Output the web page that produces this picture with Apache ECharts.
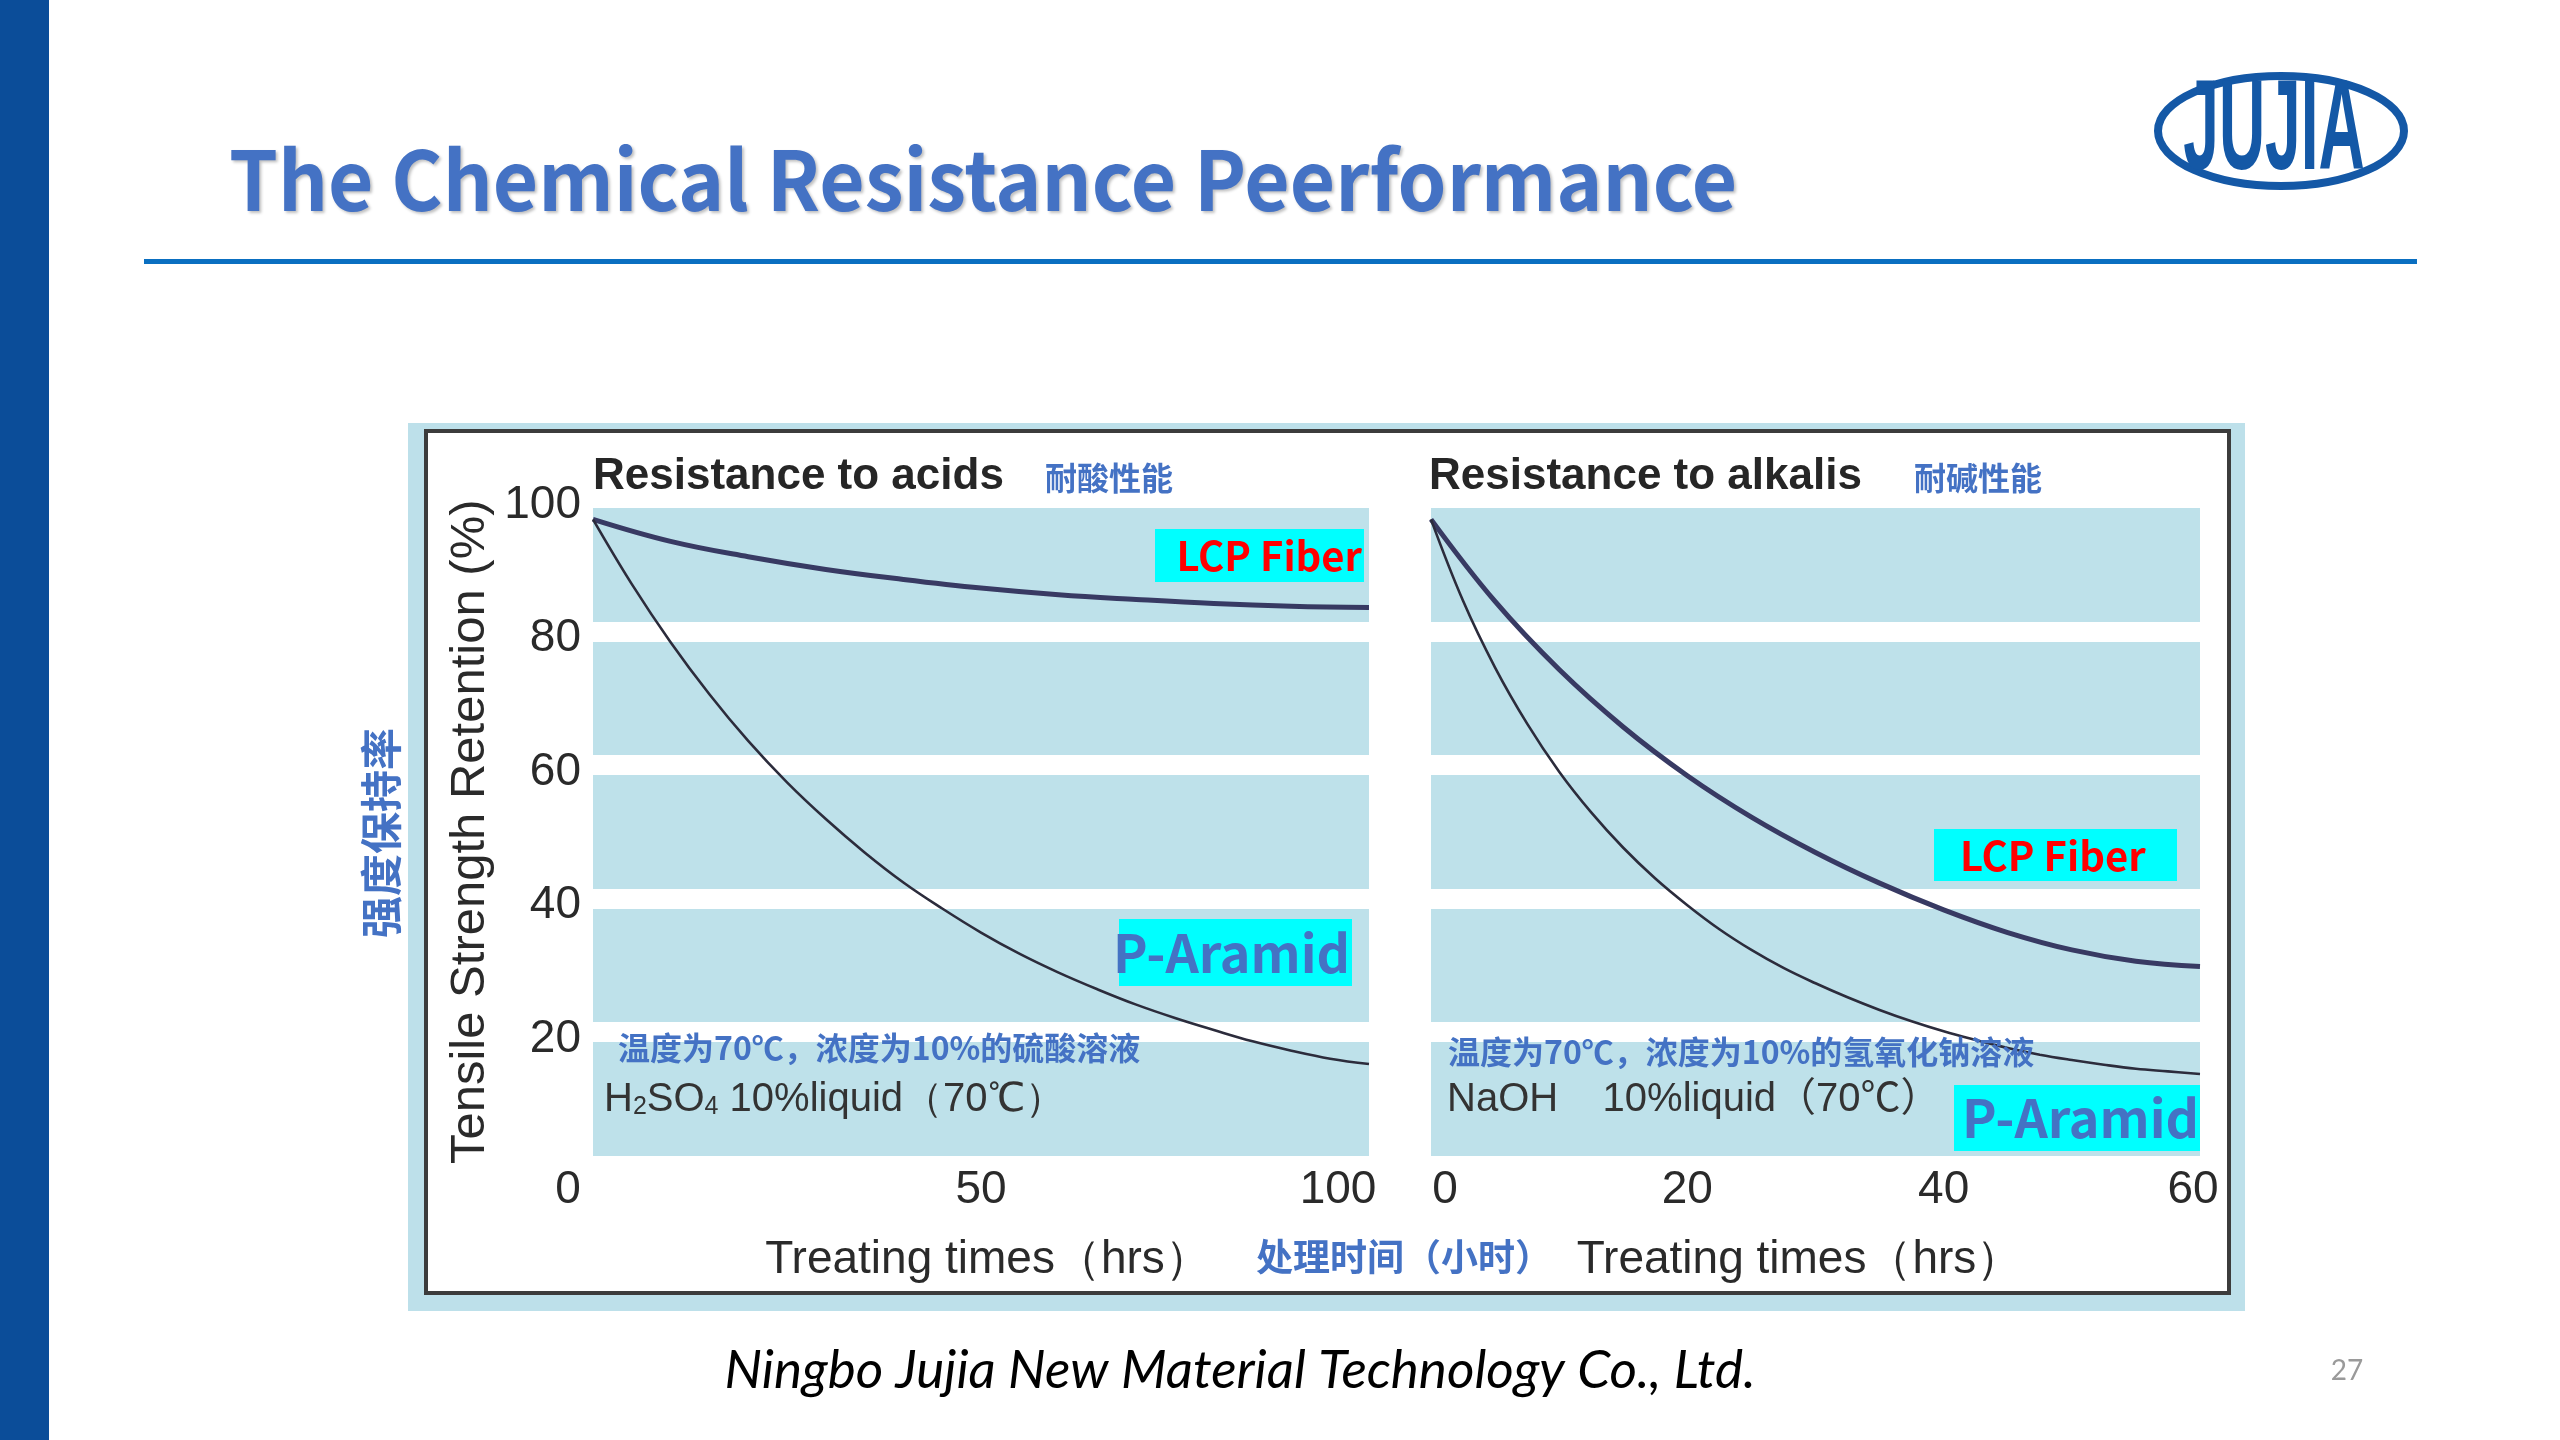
<!DOCTYPE html>
<html>
<head>
<meta charset="utf-8">
<script src="https://cdn.jsdelivr.net/npm/echarts@6/dist/echarts.min.js"></script>
<style>
html,body{margin:0;padding:0;background:#ffffff;}
#c{width:2560px;height:1440px;}
</style>
</head>
<body>
<div id="c"></div>
<script>
// ---- data ----
const acidHours   = [0, 10, 20, 30, 40, 50, 60, 70, 80, 90, 100];
const acidLCP     = [96.8, 93.5, 91.2, 89.3, 87.8, 86.5, 85.5, 84.8, 84.2, 83.8, 83.6];
const acidAramidHours = [0, 5, 10, 15, 20, 25, 30, 35, 40, 45, 50, 55, 60, 65, 70, 75, 80, 85, 90, 95, 100];
const acidAramid  = [96.8, 87.1, 78.4, 70.6, 63.6, 57.4, 51.9, 46.9, 42.4, 38.5, 34.9, 31.7, 28.9, 26.4, 24.1, 22.1, 20.3, 18.6, 17.2, 16.0, 15.2];
const alkaliLCPHours = [0, 5, 10, 15, 20, 25, 30, 35, 40, 45, 50, 55, 60];
const alkaliLCP   = [96.8, 84.5, 74.3, 65.7, 58.4, 52.2, 46.9, 42.3, 38.3, 34.9, 32.3, 30.6, 29.8];
const alkaliAramidHours = [0, 2.5, 5, 7.5, 10, 12.5, 15, 17.5, 20, 22.5, 25, 27.5, 30, 32.5, 35, 37.5, 40, 42.5, 45, 47.5, 50, 52.5, 55, 57.5, 60];
const alkaliAramid = [96.8, 84.6, 74.6, 66.2, 59.0, 52.9, 47.6, 43.0, 39.0, 35.4, 32.3, 29.6, 27.3, 25.2, 23.3, 21.6, 20.1, 18.8, 17.6, 16.6, 15.8, 15.1, 14.5, 14.1, 13.7];
const yTicks = [0, 20, 40, 60, 80, 100];
const acidXTicks = [0, 50, 100];
const alkaliXTicks = [0, 20, 40, 60];

const SANS = "'Liberation Sans', Arial, sans-serif";
const CJK = "'Noto Sans CJK SC', sans-serif";
const BLUE = '#4472C4';
const BAND = '#bee1ea';

function zip(xs, ys){ return xs.map((x,i)=>[x, ys[i]]); }

const chart = echarts.init(document.getElementById('c'), null, {renderer:'canvas', width:2560, height:1440});

const yAxisBase = {
  type:'value', min:yTicks[0], max:yTicks[yTicks.length-1], interval:20,
  axisLine:{show:false}, axisTick:{show:false},
  splitLine:{show:true, lineStyle:{color:'#ffffff', width:20}},
  splitArea:{show:true, areaStyle:{color:[BAND, BAND]}}
};
const xLabelStyle = {fontSize:46, color:'#2a2a2a', fontFamily:SANS};

function xLabel(padMap){
  return {
    margin:2,
    formatter:function(v){ const k = padMap[v] ? 'p'+v : 'n'; return '{'+k+'|'+v+'}'; },
    rich:Object.assign({n:Object.assign({}, xLabelStyle)},
      Object.fromEntries(Object.keys(padMap).map(k=>['p'+k, Object.assign({padding:padMap[k]}, xLabelStyle)])))
  };
}

const lineSeries = (name, xi, hours, vals, color, width) => ({
  name:name, type:'line', xAxisIndex:xi, yAxisIndex:xi, data:zip(hours, vals),
  smooth:0.4, symbol:'none', lineStyle:{color:color, width:width}, z:3
});

const option = {
  backgroundColor:'#ffffff',
  animation:false,
  grid:[
    {left:593, top:498, width:776, height:667.5},
    {left:1431, top:498, width:769, height:667.5}
  ],
  xAxis:[
    Object.assign({gridIndex:0, type:'value', min:acidXTicks[0], max:acidXTicks[2], interval:50,
      axisLine:{show:false}, axisTick:{show:false}, splitLine:{show:false},
      name:'Treating times（hrs）', nameLocation:'middle', nameGap:72,
      nameTextStyle:{fontSize:46, fontFamily:SANS, color:'#2a2a2a', padding:[0,0,0,14]}},
      {axisLabel:xLabel({0:[0,50,0,0], 100:[0,62,0,0]})}),
    Object.assign({gridIndex:1, type:'value', min:alkaliXTicks[0], max:alkaliXTicks[3], interval:20,
      axisLine:{show:false}, axisTick:{show:false}, splitLine:{show:false},
      name:'Treating times（hrs）', nameLocation:'middle', nameGap:72,
      nameTextStyle:{fontSize:46, fontFamily:SANS, color:'#2a2a2a', padding:[0,32,0,0]}},
      {axisLabel:xLabel({0:[0,0,0,28], 60:[0,14,0,0]})})
  ],
  yAxis:[
    Object.assign({}, yAxisBase, {gridIndex:0,
      name:'Tensile Strength Retention (%)', nameLocation:'middle', nameRotate:90, nameGap:98,
      nameTextStyle:{fontSize:49, fontFamily:SANS, color:'#2a2a2a'},
      axisLabel:{margin:12, showMinLabel:false, formatter:function(v){return '{v|'+v+'}';},
        rich:{v:{fontSize:46, color:'#2a2a2a', fontFamily:SANS, padding:[14,0,0,0]}}}}),
    Object.assign({}, yAxisBase, {gridIndex:1, axisLabel:{show:false}})
  ],
  series:[
    lineSeries('LCP Fiber (acid)', 0, acidHours, acidLCP, '#383a63', 5),
    lineSeries('P-Aramid (acid)', 0, acidAramidHours, acidAramid, '#2c2c3c', 2.6),
    lineSeries('LCP Fiber (alkali)', 1, alkaliLCPHours, alkaliLCP, '#383a63', 5),
    lineSeries('P-Aramid (alkali)', 1, alkaliAramidHours, alkaliAramid, '#2c2c3c', 2.6)
  ],
  graphic:{elements:[
    // page decoration
    {type:'rect', z:-20, shape:{x:0, y:0, width:49, height:1440}, style:{fill:'#0b4d99'}},
    {type:'text', z:50, x:229, y:180, scaleX:0.955, style:{text:'The Chemical Resistance Peerformance', fill:BLUE,
      font:"bold 82px 'Noto Sans CJK SC', sans-serif", align:'left', verticalAlign:'middle',
      textShadowColor:'rgba(0,0,0,0.25)', textShadowBlur:3, textShadowOffsetX:2, textShadowOffsetY:2}},
    {type:'rect', z:-20, shape:{x:144, y:259, width:2273, height:5}, style:{fill:'#0a6fc1'}},
    // logo
    {type:'ellipse', z:50, shape:{cx:2281, cy:131, rx:123, ry:55}, style:{fill:'#ffffff', stroke:'#1458a6', lineWidth:8}},
    {type:'text', z:51, x:2274, y:134, scaleX:0.5, style:{text:'JUJIA', fill:'#1458a6',
      font:"bold 128px 'Liberation Sans', Arial, sans-serif", align:'center', verticalAlign:'middle'}},
    // chart frame
    {type:'rect', z:-20, shape:{x:408, y:423, width:1837, height:888}, style:{fill:'#bde0ea'}},
    {type:'rect', z:-19, shape:{x:426, y:431, width:1803, height:862}, style:{fill:'#ffffff', stroke:'#3c3c3c', lineWidth:4}},
    // panel titles
    {type:'text', z:50, x:593, y:477, style:{text:'Resistance to acids', fill:'#262626',
      font:"bold 44px 'Liberation Sans', Arial, sans-serif", align:'left', verticalAlign:'middle'}},
    {type:'text', z:50, x:1045, y:478, style:{text:'耐酸性能', fill:BLUE,
      font:"bold 32px 'Noto Sans CJK SC', sans-serif", align:'left', verticalAlign:'middle'}},
    {type:'text', z:50, x:1429, y:477, style:{text:'Resistance to alkalis', fill:'#262626',
      font:"bold 44px 'Liberation Sans', Arial, sans-serif", align:'left', verticalAlign:'middle'}},
    {type:'text', z:50, x:1914, y:478, style:{text:'耐碱性能', fill:BLUE,
      font:"bold 32px 'Noto Sans CJK SC', sans-serif", align:'left', verticalAlign:'middle'}},
    // series tags
    {type:'rect', z:60, shape:{x:1155, y:529, width:209, height:53}, style:{fill:'#00ffff'}},
    {type:'text', z:61, x:1362, y:556, style:{text:'LCP Fiber', fill:'#ff0000',
      font:"bold 40px 'Noto Sans CJK SC', sans-serif", align:'right', verticalAlign:'middle'}},
    {type:'rect', z:60, shape:{x:1119, y:919, width:233, height:67}, style:{fill:'#00ffff'}},
    {type:'text', z:61, x:1350, y:953, style:{text:'P-Aramid', fill:BLUE,
      font:"bold 52px 'Noto Sans CJK SC', sans-serif", align:'right', verticalAlign:'middle'}},
    {type:'rect', z:60, shape:{x:1934, y:829, width:243, height:52}, style:{fill:'#00ffff'}},
    {type:'text', z:61, x:1960, y:856, style:{text:'LCP Fiber', fill:'#ff0000',
      font:"bold 40px 'Noto Sans CJK SC', sans-serif", align:'left', verticalAlign:'middle'}},
    {type:'rect', z:60, shape:{x:1954, y:1085, width:246, height:66}, style:{fill:'#00ffff'}},
    {type:'text', z:61, x:2199, y:1118, style:{text:'P-Aramid', fill:BLUE,
      font:"bold 52px 'Noto Sans CJK SC', sans-serif", align:'right', verticalAlign:'middle'}},
    // condition notes
    {type:'text', z:61, x:618, y:1048, style:{text:'温度为70℃，浓度为10%的硫酸溶液', fill:BLUE,
      font:"bold 32px 'Noto Sans CJK SC', sans-serif", align:'left', verticalAlign:'middle'}},
    {type:'text', z:61, x:1448, y:1052, style:{text:'温度为70℃，浓度为10%的氢氧化钠溶液', fill:BLUE,
      font:"bold 32px 'Noto Sans CJK SC', sans-serif", align:'left', verticalAlign:'middle'}},
    {type:'text', z:61, x:604, y:1100, style:{text:'{n|H}{s|2}{n|SO}{s|4}{n| 10%liquid（70℃）}',
      align:'left', verticalAlign:'middle',
      rich:{n:{fontSize:40, fontFamily:SANS, fill:'#333333', color:'#333333'},
            s:{fontSize:25, fontFamily:SANS, color:'#333333', fill:'#333333', verticalAlign:'bottom'}}}},
    {type:'text', z:61, x:1447, y:1100, style:{text:'NaOH    10%liquid（70℃）', fill:'#333333',
      font:"40px 'Liberation Sans', 'Noto Sans CJK SC', sans-serif", align:'left', verticalAlign:'middle'}},
    // axis helper captions
    {type:'text', z:61, x:1404, y:1257, style:{text:'处理时间（小时）', fill:BLUE,
      font:"bold 37px 'Noto Sans CJK SC', sans-serif", align:'center', verticalAlign:'middle'}},
    {type:'text', z:61, x:381, y:833, rotation:Math.PI/2, style:{text:'强度保持率', fill:BLUE,
      font:"bold 42px 'Noto Sans CJK SC', sans-serif", align:'center', verticalAlign:'middle'}},
    // footer
    {type:'text', z:50, x:1240, y:1371, style:{text:'Ningbo Jujia New Material Technology Co., Ltd.', fill:'#000000',
      font:"italic 53px Lato, 'Noto Sans', sans-serif", align:'center', verticalAlign:'middle'}},
    {type:'text', z:50, x:2347, y:1371, style:{text:'27', fill:'#9a9a9a',
      font:"28px Lato, 'Noto Sans', sans-serif", align:'center', verticalAlign:'middle'}}
  ]}
};
chart.setOption(option);
</script>
</body>
</html>
